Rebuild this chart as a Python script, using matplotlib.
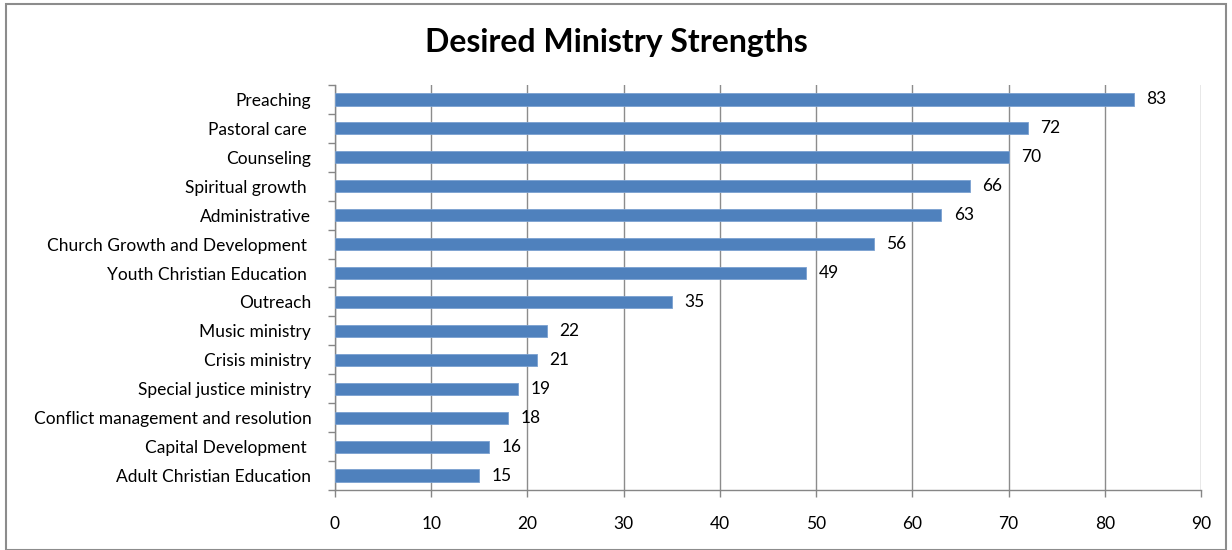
import matplotlib.pyplot as plt
import numpy as np

categories = ['Preaching', 'Pastoral care ', 'Counseling', 'Spiritual growth ',
              'Administrative', 'Church Growth and Development ',
              'Youth Christian Education ', 'Outreach', 'Music ministry',
              'Crisis ministry', 'Special justice ministry',
              'Conflict management and resolution', 'Capital Development ',
              'Adult Christian Education']
values = [83, 72, 70, 66, 63, 56, 49, 35, 22, 21, 19, 18, 16, 15]
x_ticks = list(range(0, 100, 10))

plt.rcParams['font.family'] = ['Lato', 'DejaVu Sans']

fig = plt.figure(figsize=(12.32, 5.5), dpi=100)
ax = fig.add_axes([0.2719, 0.1091, 0.9748 - 0.2719, 0.8455 - 0.1091])

y = np.arange(len(categories))
bars = ax.barh(y, values, height=0.42, color='#4f81bd', edgecolor='#7aa0d0',
               linewidth=0.6, zorder=3)
for yi, v in zip(y, values):
    ax.annotate(str(v), (v, yi), xytext=(9, 0), textcoords='offset points',
                va='center', ha='left', fontsize=12.5, color='black')

ax.set_ylim(len(categories) - 0.5, -0.5)
ax.set_xlim(0, 90)
ax.set_xticks(x_ticks)
ax.set_yticks(y)
ax.set_yticklabels(categories, fontsize=12.5)
ax.set_yticks(np.arange(-0.5, len(categories), 1), minor=True)
ax.tick_params(axis='y', which='major', length=0, pad=17)
ax.tick_params(axis='y', which='minor', length=5, color='#868686', width=1)
ax.tick_params(axis='x', length=5, color='#868686', width=1, pad=14, labelsize=12.5)
ax.grid(axis='x', color='#8c8c8c', linewidth=1, zorder=0)
for s in ['top', 'right']:
    ax.spines[s].set_visible(False)
for s in ['left', 'bottom']:
    ax.spines[s].set_color('#868686')
    ax.spines[s].set_linewidth(1)

fig.text(0.5, 0.922, 'Desired Ministry Strengths', ha='center', va='center',
         fontsize=23, fontweight='bold')

border = plt.Rectangle((6 / 1232, 0.0), 1 - 12 / 1232, 1 - 4 / 550,
                       transform=fig.transFigure, fill=False,
                       edgecolor='#8c8c8c', linewidth=1.5)
fig.patches.append(border)

fig.savefig('out.png', dpi=100)
